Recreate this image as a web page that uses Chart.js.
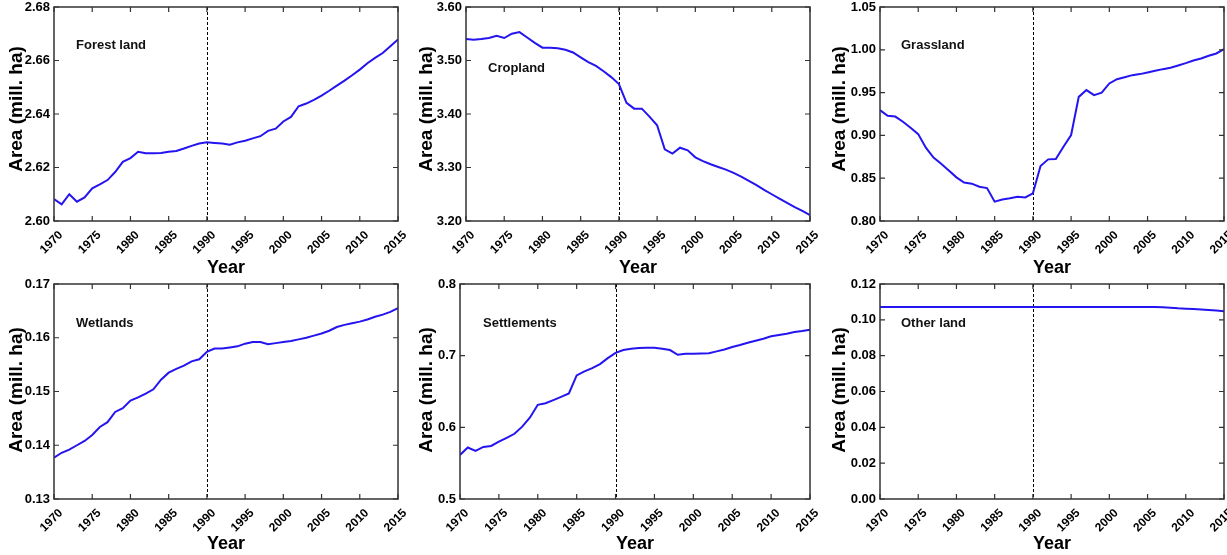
<!DOCTYPE html>
<html>
<head>
<meta charset="utf-8">
<script src="https://cdn.jsdelivr.net/npm/chart.js@4.4.1/dist/chart.umd.min.js"></script>
<style>
  html, body { margin: 0; padding: 0; background: #fff; }
  .panel { position: absolute; }
</style>
</head>
<body>
<div class="panel" id="p0"><canvas id="c0"></canvas></div>
<div class="panel" id="p1"><canvas id="c1"></canvas></div>
<div class="panel" id="p2"><canvas id="c2"></canvas></div>
<div class="panel" id="p3"><canvas id="c3"></canvas></div>
<div class="panel" id="p4"><canvas id="c4"></canvas></div>
<div class="panel" id="p5"><canvas id="c5"></canvas></div>
<script>
// categories
var years = [1970, 1971, 1972, 1973, 1974, 1975, 1976, 1977, 1978, 1979,
             1980, 1981, 1982, 1983, 1984, 1985, 1986, 1987, 1988, 1989,
             1990, 1991, 1992, 1993, 1994, 1995, 1996, 1997, 1998, 1999,
             2000, 2001, 2002, 2003, 2004, 2005, 2006, 2007, 2008, 2009,
             2010, 2011, 2012, 2013, 2014, 2015];
var yearTicks = [1970, 1975, 1980, 1985, 1990, 1995, 2000, 2005, 2010, 2015];

// series values (mill. ha)
var forestLand = [2.6082, 2.6062, 2.6100, 2.6072, 2.6088, 2.6122, 2.6137, 2.6153, 2.6183, 2.6221,
                  2.6235, 2.6259, 2.6253, 2.6253, 2.6254, 2.6259, 2.6262, 2.6271, 2.6281, 2.6290,
                  2.6294, 2.6292, 2.6290, 2.6285, 2.6294, 2.6300, 2.6309, 2.6317, 2.6337, 2.6345,
                  2.6372, 2.6389, 2.6429, 2.6439, 2.6453, 2.6469, 2.6487, 2.6506, 2.6525, 2.6545,
                  2.6566, 2.6590, 2.6610, 2.6628, 2.6653, 2.6679];
var cropland = [3.540, 3.539, 3.540, 3.542, 3.546, 3.542, 3.550, 3.553, 3.543, 3.533,
                3.524, 3.524, 3.523, 3.520, 3.515, 3.506, 3.497, 3.490, 3.480, 3.469,
                3.456, 3.421, 3.410, 3.410, 3.395, 3.379, 3.334, 3.326, 3.337, 3.332,
                3.319, 3.312, 3.306, 3.301, 3.296, 3.290, 3.283, 3.275, 3.267, 3.258,
                3.250, 3.242, 3.234, 3.226, 3.219, 3.211];
var grassland = [0.9295, 0.9230, 0.9220, 0.9160, 0.9090, 0.9015, 0.8856, 0.8740, 0.8670, 0.8590,
                 0.8510, 0.8450, 0.8436, 0.8400, 0.8385, 0.8226, 0.8250, 0.8265, 0.8284, 0.8276,
                 0.8323, 0.8642, 0.8720, 0.8724, 0.8867, 0.9004, 0.9450, 0.9529, 0.9470, 0.9500,
                 0.9607, 0.9657, 0.9680, 0.9704, 0.9716, 0.9735, 0.9755, 0.9774, 0.9790, 0.9817,
                 0.9844, 0.9875, 0.9898, 0.9930, 0.9957, 1.0007];
var wetlands = [0.1377, 0.1386, 0.1392, 0.1400, 0.1408, 0.1419, 0.1434, 0.1443, 0.1462, 0.1469,
                0.1483, 0.1489, 0.1496, 0.1504, 0.1522, 0.1535, 0.1542, 0.1548, 0.1556, 0.1560,
                0.1574, 0.1580, 0.1580, 0.1582, 0.1584, 0.1589, 0.1592, 0.1592, 0.1588, 0.1590,
                0.1592, 0.1594, 0.1597, 0.1600, 0.1604, 0.1608, 0.1613, 0.1620, 0.1624, 0.1627,
                0.1630, 0.1634, 0.1639, 0.1643, 0.1648, 0.1655];
var settlements = [0.5615, 0.5718, 0.5670, 0.5727, 0.5740, 0.5800, 0.5853, 0.5910, 0.6010, 0.6137,
                   0.6314, 0.6337, 0.6380, 0.6425, 0.6472, 0.6724, 0.6780, 0.6826, 0.6882, 0.6966,
                   0.7040, 0.7078, 0.7096, 0.7106, 0.7110, 0.7110, 0.7096, 0.7078, 0.7012, 0.7026,
                   0.7026, 0.7030, 0.7035, 0.7060, 0.7087, 0.7120, 0.7148, 0.7180, 0.7209, 0.7237,
                   0.7270, 0.7288, 0.7307, 0.7330, 0.7344, 0.7362];
var otherLand = [0.1071, 0.1071, 0.1071, 0.1071, 0.1071, 0.1071, 0.1071, 0.1071, 0.1071, 0.1071,
                 0.1071, 0.1071, 0.1071, 0.1071, 0.1071, 0.1071, 0.1071, 0.1071, 0.1071, 0.1071,
                 0.1071, 0.1071, 0.1071, 0.1071, 0.1071, 0.1071, 0.1071, 0.1071, 0.1071, 0.1071,
                 0.1071, 0.1071, 0.1071, 0.1071, 0.1071, 0.1071, 0.1071, 0.1070, 0.1068, 0.1064,
                 0.1062, 0.1060, 0.1058, 0.1055, 0.1052, 0.1048];

// tick labels of the value axes
var forestTicks = [2.60, 2.62, 2.64, 2.66, 2.68];
var cropTicks = [3.20, 3.30, 3.40, 3.50, 3.60];
var grassTicks = [0.80, 0.85, 0.90, 0.95, 1.00, 1.05];
var wetTicks = [0.13, 0.14, 0.15, 0.16, 0.17];
var settleTicks = [0.5, 0.6, 0.7, 0.8];
var otherTicks = [0.00, 0.02, 0.04, 0.06, 0.08, 0.10, 0.12];

var refYear = 1990;
var lineColor = '#2414f0';
var frameColor = '#333';
var font = "'Liberation Sans', Arial, Helvetica, sans-serif";

// box = container [left, top, width, height]; area = plot [left, top, right, bottom]
// label = panel name offset from plot corner; yTitle = [x in box, y in page]
// canvases are transparent, so neighbouring boxes may overlap a little
var panels = [
  { name: 'Forest land', values: forestLand, ticks: forestTicks, dec: 2,
    box: [0, 0, 412, 275], area: [54, 7, 398, 221], label: [22, 38], yTitle: [17, 109], xOff: 6.5 },
  { name: 'Cropland', values: cropland, ticks: cropTicks, dec: 2,
    box: [405, 0, 414, 275], area: [466, 7, 810, 221], label: [22, 61], yTitle: [22, 109], xOff: 6.5 },
  { name: 'Grassland', values: grassland, ticks: grassTicks, dec: 2,
    box: [815, 0, 412, 275], area: [880, 7, 1224, 221], label: [21, 38], yTitle: [25, 109], xOff: 6.5 },
  { name: 'Wetlands', values: wetlands, ticks: wetTicks, dec: 2,
    box: [0, 275, 412, 280], area: [54, 284, 398, 499], label: [22, 39], yTitle: [17, 390], xOff: 11 },
  { name: 'Settlements', values: settlements, ticks: settleTicks, dec: 1,
    box: [405, 275, 414, 280], area: [460, 284, 810, 499], label: [23, 39], yTitle: [22, 390], xOff: 11 },
  { name: 'Other land', values: otherLand, ticks: otherTicks, dec: 2,
    box: [815, 275, 412, 280], area: [880, 284, 1224, 499], label: [21, 39], yTitle: [25, 390], xOff: 11 }
];

// frame, inward ticks, 1990 marker, panel name and value-axis title
var framePlugin = {
  id: 'frame',
  beforeDatasetsDraw: function(chart) {
    var ctx = chart.ctx, a = chart.chartArea;
    var x = chart.scales.x.getPixelForValue(refYear);
    ctx.save();
    ctx.strokeStyle = '#000';
    ctx.lineWidth = 1;
    ctx.setLineDash([3, 2]);
    ctx.beginPath();
    ctx.moveTo(Math.round(x) + 0.5, a.top);
    ctx.lineTo(Math.round(x) + 0.5, a.bottom);
    ctx.stroke();
    ctx.restore();
  },
  afterDatasetsDraw: function(chart) {
    var ctx = chart.ctx, a = chart.chartArea;
    var xs = chart.scales.x, ys = chart.scales.y;
    var len = 5;
    var p = chart.options.plugins.frame;
    ctx.save();
    ctx.strokeStyle = frameColor;
    ctx.lineWidth = 1.5;
    ctx.strokeRect(a.left, a.top, a.right - a.left, a.bottom - a.top);
    ctx.lineWidth = 1.2;
    ctx.beginPath();
    xs.ticks.forEach(function(t) {
      var px = xs.getPixelForValue(t.value);
      ctx.moveTo(px, a.bottom); ctx.lineTo(px, a.bottom - len);
      ctx.moveTo(px, a.top); ctx.lineTo(px, a.top + len);
    });
    ys.ticks.forEach(function(t) {
      var py = ys.getPixelForValue(t.value);
      ctx.moveTo(a.left, py); ctx.lineTo(a.left + len, py);
      ctx.moveTo(a.right, py); ctx.lineTo(a.right - len, py);
    });
    ctx.stroke();

    ctx.fillStyle = '#111';
    ctx.font = 'bold 13px ' + font;
    ctx.textAlign = 'left';
    ctx.textBaseline = 'middle';
    ctx.fillText(p.name, a.left + p.dx, a.top + p.dy);

    ctx.fillStyle = '#000';
    ctx.font = 'bold 19px ' + font;
    ctx.textAlign = 'center';
    ctx.translate(p.tx, p.ty);
    ctx.rotate(-Math.PI / 2);
    ctx.fillText('Area (mill. ha)', 0, 0);
    ctx.restore();
  }
};

panels.forEach(function(p, i) {
  var div = document.getElementById('p' + i);
  div.style.left = p.box[0] + 'px';
  div.style.top = p.box[1] + 'px';
  var canvas = document.getElementById('c' + i);
  canvas.width = p.box[2];
  canvas.height = p.box[3];

  var points = years.map(function(y, k) { return { x: y, y: p.values[k] }; });
  var yAxisWidth = p.area[0] - p.box[0];
  var xAxisHeight = p.box[1] + p.box[3] - p.area[3];

  new Chart(canvas.getContext('2d'), {
    type: 'line',
    data: {
      datasets: [{
        data: points,
        borderColor: lineColor,
        borderWidth: 2,
        pointRadius: 0,
        tension: 0,
        fill: false
      }]
    },
    options: {
      responsive: false,
      animation: false,
      events: [],
      layout: {
        padding: { top: p.area[1] - p.box[1], right: p.box[0] + p.box[2] - p.area[2], left: 0, bottom: 0 }
      },
      plugins: {
        legend: { display: false },
        tooltip: { enabled: false },
        frame: { name: p.name, dx: p.label[0], dy: p.label[1], tx: p.yTitle[0], ty: p.yTitle[1] - p.box[1] }
      },
      scales: {
        x: {
          type: 'linear',
          min: years[0],
          max: years[years.length - 1],
          grid: { display: false, drawTicks: false },
          border: { display: false },
          afterBuildTicks: function(s) { s.ticks = yearTicks.map(function(v) { return { value: v }; }); },
          afterFit: function(s) { s.height = xAxisHeight; s.paddingLeft = 0; s.paddingRight = 0; },
          ticks: {
            color: '#000',
            padding: 7,
            labelOffset: 7,
            minRotation: 45,
            maxRotation: 45,
            autoSkip: false,
            font: { family: font, size: 12, weight: 'bold' },
            callback: function(v) { return String(v); }
          },
          title: {
            display: true,
            text: 'Year',
            color: '#000',
            padding: 0,
            font: { family: font, size: 18, weight: 'bold', lineHeight: (p.xOff * 2) + 'px' }
          }
        },
        y: {
          min: p.ticks[0],
          max: p.ticks[p.ticks.length - 1],
          grid: { display: false, drawTicks: false },
          border: { display: false },
          afterBuildTicks: function(s) { s.ticks = p.ticks.map(function(v) { return { value: v }; }); },
          afterFit: function(s) { s.width = yAxisWidth; s.paddingTop = 0; s.paddingBottom = 0; },
          ticks: {
            color: '#000',
            padding: 4,
            font: { family: font, size: 13, weight: 'bold' },
            callback: function(v) { return Number(v).toFixed(p.dec); }
          }
        }
      }
    },
    plugins: [framePlugin]
  });
});
</script>
</body>
</html>
